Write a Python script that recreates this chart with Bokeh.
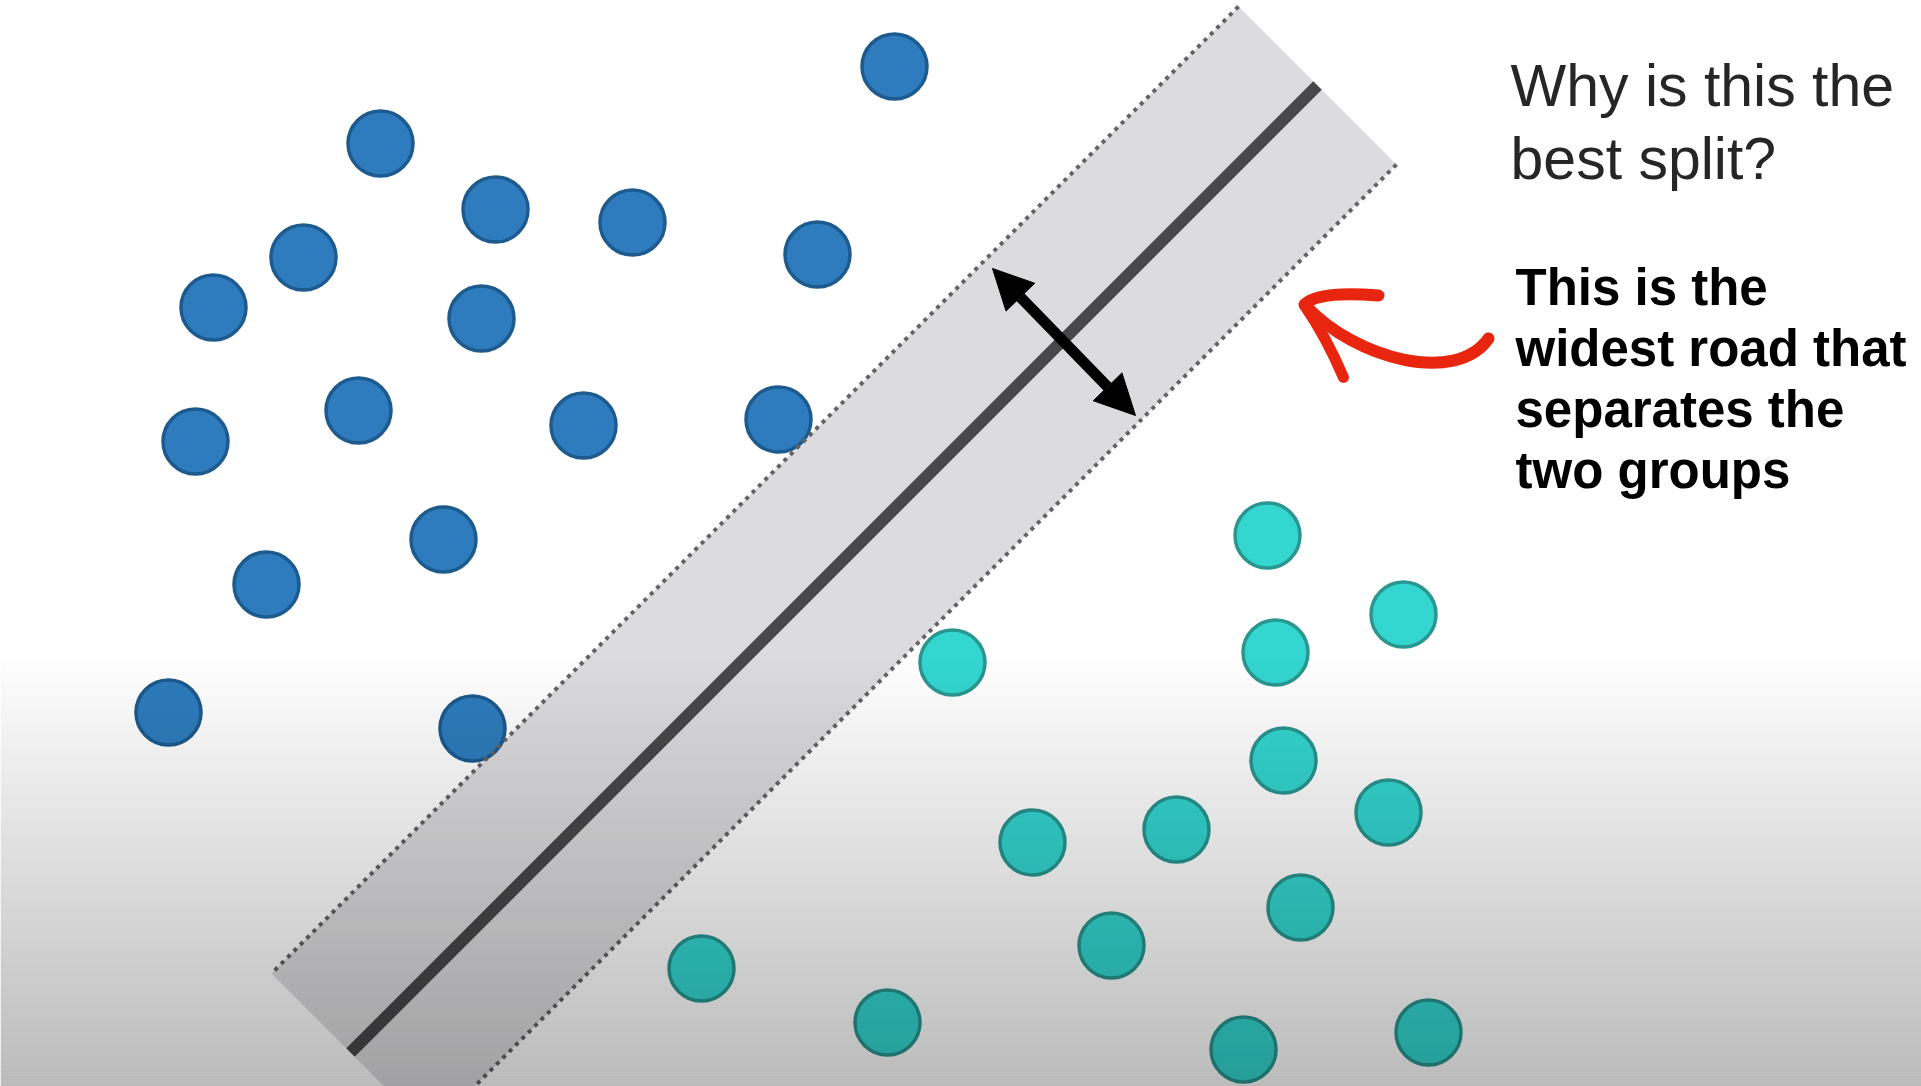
import numpy as np
from bokeh.plotting import figure
from bokeh.models import Range1d, Arrow, NormalHead
from bokeh.core.properties import value
from bokeh.embed import file_html
from bokeh.resources import INLINE

# ---- data (pixel-space coordinates of the illustration) ----
blue_x = [894, 380, 495, 632, 817, 303, 213, 481, 358, 583, 778, 195, 443, 266, 168, 472]
blue_y = [66, 143, 209, 222, 254, 257, 307, 318, 410, 425, 419, 441, 539, 584, 712, 728]

teal_x = [1267, 1403, 952, 1275, 1283, 1176, 1032, 1388, 1300, 1111, 701, 887, 1243, 1428]
teal_y = [535, 614, 662, 652, 760, 829, 842, 812, 907, 945, 968, 1022, 1049, 1032]

# separating line (centre of the road) end points and half width (margin)
split_x = [1317, 350]
split_y = [85, 1052]
margin = 111.7

# margin-width arrow
width_arrow_x = [992, 1135]
width_arrow_y = [268, 415]

title_lines = ["Why is this the", "best split?"]
note_lines = ["This is the", "widest road that", "separates the", "two groups"]

# ---- figure ----
W, H = 1921, 1086
p = figure(width=W, height=H, x_range=Range1d(0, W), y_range=Range1d(H, 0),
           output_backend="svg", toolbar_location=None,
           x_axis_type=None, y_axis_type=None, min_border=0,
           outline_line_color=None, background_fill_color="white",
           border_fill_color="white")
p.grid.visible = False

# road geometry from centre line and margin
n = np.array([1.0, 1.0]) / np.sqrt(2.0)
c0 = np.array([split_x[0], split_y[0]], dtype=float)
c1 = np.array([split_x[1], split_y[1]], dtype=float)
up0, up1 = c0 - n * margin, c1 - n * margin
lo0, lo1 = c0 + n * margin, c1 + n * margin

p.patch([up0[0], lo0[0], lo1[0], up1[0]], [up0[1], lo0[1], lo1[1], up1[1]],
        fill_color="#dcdcde", line_color=None)
p.line(split_x, split_y, line_width=12, line_color="#48484a")

# points
p.circle(blue_x, blue_y, radius=32.5, fill_color="#2e7cbd", line_color="#1d5a8e", line_width=3.5)
p.circle(teal_x, teal_y, radius=32.5, fill_color="#34d6d0", line_color="#2a9690", line_width=3.5)

# dotted road edges
for a, b in ((up0, up1), (lo0, lo1)):
    p.line([a[0], b[0]], [a[1], b[1]], line_width=4, line_dash="4 5", line_color="#646466")

# double-headed arrow
p.add_layout(Arrow(start=NormalHead(size=40, fill_color="black", line_color="black"),
                   end=NormalHead(size=40, fill_color="black", line_color="black"),
                   x_start=width_arrow_x[0], y_start=width_arrow_y[0],
                   x_end=width_arrow_x[1], y_end=width_arrow_y[1],
                   line_width=11, line_color="black"))

# red hand-drawn arrow
red = "#e8260f"
p.bezier(x0=[1306], y0=[306], x1=[1488], y1=[338], cx0=[1355], cy0=[358], cx1=[1455], cy1=[385],
         line_width=12, line_color=red, line_cap="round")
p.quadratic(x0=[1304], y0=[304], x1=[1378], y1=[295], cx=[1318], cy=[290],
            line_width=12, line_color=red, line_cap="round")
p.quadratic(x0=[1304], y0=[305], x1=[1343], y1=[377], cx=[1325], cy=[335],
            line_width=11, line_color=red, line_cap="round")

# bottom shading (multiplies everything below like the reference)
ys = np.arange(650, H, 2)
shade = np.clip(70.0 * (ys + 1 - 650) / 436.0, 0, 80) / 255.0
p.quad(left=0, right=W, top=ys, bottom=ys + 2, fill_color="black",
       fill_alpha=shade, line_color=None)

# texts
p.text(x=[1510] * len(title_lines), y=[85 + 73 * i for i in range(len(title_lines))],
       text=title_lines, text_font=value("Liberation Sans"), text_font_size="59px",
       text_color="#262626", text_baseline="alphabetic", text_align="left")
p.text(x=[1515] * len(note_lines), y=[287 + 61 * i for i in range(len(note_lines))],
       text=note_lines, text_font=value("Liberation Sans"), text_font_size="51px",
       text_font_style="bold", text_color="black", text_baseline="alphabetic", text_align="left")

open("out.html", "w").write(file_html(p, INLINE))
